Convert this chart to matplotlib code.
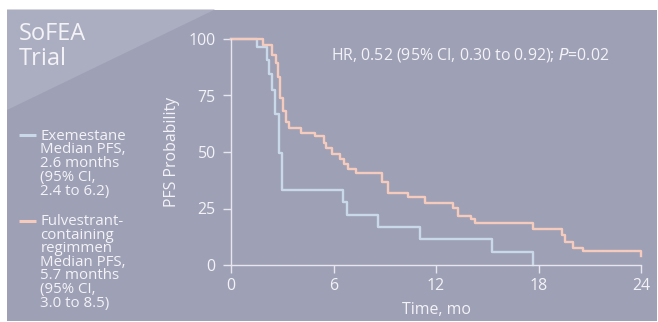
import matplotlib
matplotlib.use("Agg")
import matplotlib.pyplot as plt
from matplotlib.patches import Polygon, Rectangle

plt.rcParams['font.family'] = ['Open Sans', 'DejaVu Sans']

# ---- data ----
exe_times = [0, 1.55, 2.1, 2.25, 2.42, 2.59, 2.79, 3.0, 6.53, 6.77, 8.61, 11.08, 15.3, 17.7]
exe_surv = [100, 96.6, 90.7, 84.4, 77.4, 66.7, 49.7, 33.3, 27.8, 22.2, 16.7, 11.3, 5.6, 0]

ful_times = [0, 1.9, 2.38, 2.62, 2.73, 2.88, 3.04, 3.2, 3.41, 4.11, 4.9, 5.42, 5.57, 5.94,
             6.37, 6.63, 6.87, 7.33, 8.81, 9.2, 10.34, 11.37, 13.02, 13.3, 14.05, 14.27,
             17.68, 19.35, 19.54, 20.0, 20.63, 24.0]
ful_surv = [100, 97.3, 92.9, 89.5, 83.3, 73.7, 68.3, 63.4, 60.5, 58.5, 57.0, 54.1, 51.6, 49.1,
            46.8, 44.7, 42.3, 40.6, 36.9, 32.0, 30.2, 27.6, 25.4, 21.8, 20.4, 18.7,
            15.8, 13.3, 10.3, 7.7, 6.3, 4.0]

x_ticks = [0, 6, 12, 18, 24]
y_ticks = [0, 25, 50, 75, 100]

exe_label = ["Exemestane", "Median PFS,", "2.6 months", "(95% CI,", "2.4 to 6.2)"]
ful_label = ["Fulvestrant-", "containing", "regimmen", "Median PFS,", "5.7 months",
             "(95% CI,", "3.0 to 8.5)"]

# ---- style ----
BG = "#9ea0b5"
BG_LIGHT = "#abadc1"
FG = "#f3f3f7"
AX = "#e6e6ee"
BLUE = "#c9d9ea"
ORANGE = "#f5cbbd"
FS = 11.4
LFS = 10.8

W, H = 658, 322
fig = plt.figure(figsize=(W / 100, H / 100), dpi=100)
fig.patch.set_facecolor("white")

bg = fig.add_axes([0, 0, 1, 1], zorder=0)
bg.set_xlim(0, W)
bg.set_ylim(H, 0)
bg.axis("off")
bg.add_patch(Rectangle((7, 9.5), W - 8, H - 10.5, facecolor=BG, edgecolor="none"))
bg.add_patch(Polygon([(7, 9.5), (215, 9.5), (7, 110)], closed=True,
                     facecolor=BG_LIGHT, edgecolor="none"))

bg.text(19, 40, "SoFEA", fontsize=17, color=FG, va="baseline", ha="left")
bg.text(19, 65, "Trial", fontsize=17, color=FG, va="baseline", ha="left")

def legend_block(y0, lines, color, step):
    bg.plot([18.5, 36], [y0 - 4.5, y0 - 4.5], color=color, lw=2.2, solid_capstyle="butt")
    for i, t in enumerate(lines):
        bg.text(40.5, y0 + i * step, t, fontsize=LFS, color=FG, va="baseline", ha="left")

legend_block(139.5, exe_label, BLUE, 13.9)
legend_block(225, ful_label, ORANGE, 13.6)

bg.text(331, 55, "HR, 0.52 (95% CI, 0.30 to 0.92); $\\it{P}$=0.02",
        fontsize=FS, color=FG, va="center", ha="left")

ax = fig.add_axes([231 / W, 1 - 265 / H, (641 - 231) / W, (265 - 39) / H], zorder=1)
ax.patch.set_alpha(0)
ax.step(exe_times, exe_surv, where="post", color=BLUE, lw=1.7, clip_on=False)
ax.step(ful_times, ful_surv, where="post", color=ORANGE, lw=1.7, clip_on=False)

ax.set_xlim(0, 24)
ax.set_ylim(0, 100)
ax.set_xticks(x_ticks)
ax.set_yticks(y_ticks)
for s in ["top", "right"]:
    ax.spines[s].set_visible(False)
for s in ["left", "bottom"]:
    ax.spines[s].set_color(AX)
    ax.spines[s].set_linewidth(1.0)
ax.tick_params(axis="both", colors=AX, labelcolor=FG, labelsize=FS, length=6, width=1.0)
ax.tick_params(axis="y", pad=5)
ax.tick_params(axis="x", pad=3)
ax.set_xlabel("Time, mo", fontsize=FS, color=FG, labelpad=6)
ax.set_ylabel("PFS Probability", fontsize=FS, color=FG, labelpad=6)

fig.savefig("out.png", dpi=100, facecolor="white")
